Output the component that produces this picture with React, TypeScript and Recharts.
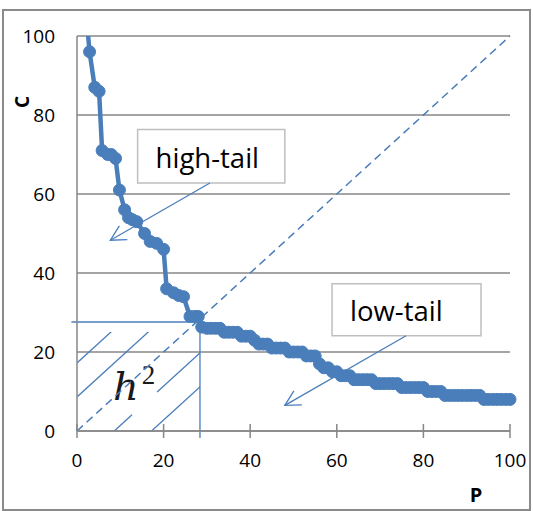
import React from "react";
import {
  LineChart,
  Line,
  XAxis,
  YAxis,
  CartesianGrid,
  ReferenceLine,
  ReferenceArea,
} from "recharts";

// P (x) and C (y) readings of the curve
const pHigh = [2, 2.9, 4.1, 5.1, 5.8, 7.1, 7.9, 8.9, 9.8, 11, 11.9, 12.8, 13.8, 15.6, 16.9, 18.4, 20, 20.7, 22.3, 23.5, 24.6, 26.1, 27.2, 28, 28.8];
const cHigh = [107, 96, 87, 86, 71, 70, 70, 69, 61, 56, 54, 53.5, 53, 50, 48, 47.5, 46, 36, 35, 34.3, 34, 29, 29, 29, 26.3];
const pLow = [
  30, 31, 32, 33, 34, 35, 36, 37, 38, 39, 40, 41, 42, 43, 44, 45, 46, 47, 48, 49,
  50, 51, 52, 53, 54, 55, 56, 57, 58, 59, 60, 61, 62, 63, 64, 65, 66, 67, 68, 69,
  70, 71, 72, 73, 74, 75, 76, 77, 78, 79, 80, 81, 82, 83, 84, 85, 86, 87, 88, 89,
  90, 91, 92, 93, 94, 95, 96, 97, 98, 99, 100,
];
const cLow = [
  26, 26, 26, 26, 25, 25, 25, 25, 24, 24, 24, 23, 22, 22, 22, 21, 21, 21, 21, 20,
  20, 20, 20, 19, 19, 19, 17, 16, 16, 15, 15, 14, 14, 14, 13, 13, 13, 13, 13, 12,
  12, 12, 12, 12, 12, 11, 11, 11, 11, 11, 11, 10, 10, 10, 10, 9, 9, 9, 9, 9,
  9, 9, 9, 9, 8, 8, 8, 8, 8, 8, 8,
];
const axisTicks = [0, 20, 40, 60, 80, 100];

// h-index guide
const hP = 28.4;
const hC = 27.6;

// annotation boxes and arrows (data coords)
const highBox = { x1: 14, x2: 48, y1: 62.8, y2: 76.3, text: "high-tail" };
const lowBox = { x1: 58.9, x2: 93.3, y1: 24.1, y2: 37.3, text: "low-tail" };
const highArrow = [{ x: 30.7, y: 62.8 }, { x: 7.7, y: 48.3 }];
const lowArrow = [{ x: 76, y: 24.1 }, { x: 48, y: 6.5 }];

const curve = [...pHigh, ...pLow].map((p, i) => ({ P: p, C: [...cHigh, ...cLow][i] }));

const blue = "#4a7ebb";
const gridColor = "#878787";
const font = "'Open Sans', sans-serif";

const PTick = (props: any) => {
  const { x, y, payload } = props;
  return (
    <g>
      <line x1={x} x2={x} y1={y - 7} y2={y + 7} stroke={gridColor} strokeWidth={1.5} />
      <text x={x} y={y + 36} textAnchor="middle" fontSize={19} fill="#000" fontFamily={font}>
        {payload.value}
      </text>
    </g>
  );
};

const Hatch = (props: any) => {
  const { x, y, width, height } = props;
  const slope = (height / hC) / (width / hP);
  const x0 = x;
  const y0 = y + height;
  const lines = [-2, -1, 1, 2].map((k) => {
    const off = k * 34;
    // start at left edge (above diagonal) or at bottom edge (below)
    const sx = k < 0 ? x0 : x0 + off / slope;
    const sy = k < 0 ? y0 + off : y0;
    const ex = x0 + width + 20;
    const ey = y0 + off - slope * (ex - x0);
    return (
      <line key={k} x1={sx} y1={sy} x2={ex} y2={ey} stroke={blue} strokeWidth={1.3}
        strokeDasharray={k === 1 ? "24 34 200" : undefined} />
    );
  });
  return (
    <g>
      <defs>
        <clipPath id="hatchClip">
          <rect x={x} y={y + 10} width={width} height={height - 10} />
        </clipPath>
      </defs>
      <g clipPath="url(#hatchClip)">{lines}</g>
    </g>
  );
};

const boxLabel = (text: string) => (props: any) => {
  const { viewBox } = props;
  return (
    <text x={viewBox.x + 18} y={viewBox.y + viewBox.height / 2 + 11.5} fontSize={27.5}
      fill="#000" fontFamily={font}>
      {text}
    </text>
  );
};

const arrowLine = (props: any) => (
  <line x1={props.x1} y1={props.y1} x2={props.x2} y2={props.y2} stroke={blue}
    strokeWidth={1.3} markerEnd="url(#openArrow)" />
);

const App = () => {
  return (
    <div style={{ position: "absolute", left: 0, top: 0, width: 533, height: 511 }}>
      <div style={{
        position: "absolute", left: 2, top: 9, width: 529, height: 502,
        border: "2px solid #8a8a8a", boxSizing: "border-box",
      }} />
      <div style={{ position: "absolute", left: 0, top: 0 }}>
        <LineChart width={533} height={511} data={curve}
          margin={{ top: 36, right: 23, left: 0, bottom: 0 }}
          style={{ fontFamily: font }}>
          <defs>
            <marker id="openArrow" markerUnits="userSpaceOnUse" markerWidth={16}
              markerHeight={18} refX={15} refY={9} orient="auto" overflow="visible">
              <path d="M0,1 L15,9 L0,17" fill="none" stroke={blue} strokeWidth={1.3} />
            </marker>
          </defs>
          <CartesianGrid vertical={false} stroke={gridColor} strokeWidth={1.4} />
          <XAxis type="number" dataKey="P" domain={[0, 100]} ticks={axisTicks}
            height={80} tickSize={0} tickMargin={0} tickLine={false}
            axisLine={{ stroke: gridColor, strokeWidth: 1.5 }} tick={<PTick />}
            label={{
              content: (p: any) => (
                <text x={p.viewBox.x + p.viewBox.width - 34} y={p.viewBox.y + 63}
                  textAnchor="middle" dominantBaseline="central" fontWeight="bold"
                  fontSize={20} fill="#000" fontFamily={font}>P</text>
              ),
            }} />
          <YAxis type="number" domain={[0, 100]} ticks={axisTicks} allowDataOverflow
            width={77} tickSize={0} tickMargin={22} tickLine={false}
            axisLine={{ stroke: gridColor, strokeWidth: 1.5 }}
            tick={{ fontSize: 19, fill: "#000", fontFamily: font }}
            label={{
              content: (p: any) => {
                const cx = p.viewBox.x + 21.5;
                const cy = p.viewBox.y + 66;
                return (
                  <text x={cx} y={cy} transform={`rotate(-90, ${cx}, ${cy})`}
                    textAnchor="middle" dominantBaseline="central" fontWeight="bold"
                    fontSize={19} fill="#000" fontFamily={font}>C</text>
                );
              },
            }} />
          <ReferenceArea x1={0} x2={hP} y1={0} y2={hC} ifOverflow="visible" shape={<Hatch />}
            label={{
              content: (p: any) => (
                <text x={p.viewBox.x + 36} y={p.viewBox.y + p.viewBox.height - 31}
                  fontFamily="'DejaVu Serif', serif" fontStyle="italic" fontSize={40}
                  fill="#1a1a1a">
                  h<tspan fontFamily="'Liberation Serif', serif" fontStyle="normal"
                    fontSize={27} dx={3} dy={-16}>2</tspan>
                </text>
              ),
            }} />
          <ReferenceLine segment={[{ x: 0, y: 0 }, { x: 100, y: 100 }]} stroke={blue}
            strokeWidth={1.5} strokeDasharray="8 5" ifOverflow="visible" />
          <ReferenceLine segment={[{ x: -1.3, y: hC }, { x: hP, y: hC }]} stroke={blue}
            strokeWidth={1.3} ifOverflow="visible" />
          <ReferenceLine segment={[{ x: hP, y: hC }, { x: hP, y: -1.8 }]} stroke={blue}
            strokeWidth={1.3} ifOverflow="visible" />
          <ReferenceArea x1={highBox.x1} x2={highBox.x2} y1={highBox.y1} y2={highBox.y2}
            fill="#fff" fillOpacity={1} stroke="#bfbfbf" strokeWidth={1.5}
            ifOverflow="visible" label={{ content: boxLabel(highBox.text) }} />
          <ReferenceArea x1={lowBox.x1} x2={lowBox.x2} y1={lowBox.y1} y2={lowBox.y2}
            fill="#fff" fillOpacity={1} stroke="#bfbfbf" strokeWidth={1.5}
            ifOverflow="visible" label={{ content: boxLabel(lowBox.text) }} />
          <Line type="linear" dataKey="C" stroke={blue} strokeWidth={4.5}
            dot={{ r: 6, fill: blue, stroke: blue, strokeWidth: 1 }}
            activeDot={false} isAnimationActive={false} />
          <ReferenceLine segment={highArrow} ifOverflow="visible" shape={arrowLine} />
          <ReferenceLine segment={lowArrow} ifOverflow="visible" shape={arrowLine} />
        </LineChart>
      </div>
    </div>
  );
};

export default App;
